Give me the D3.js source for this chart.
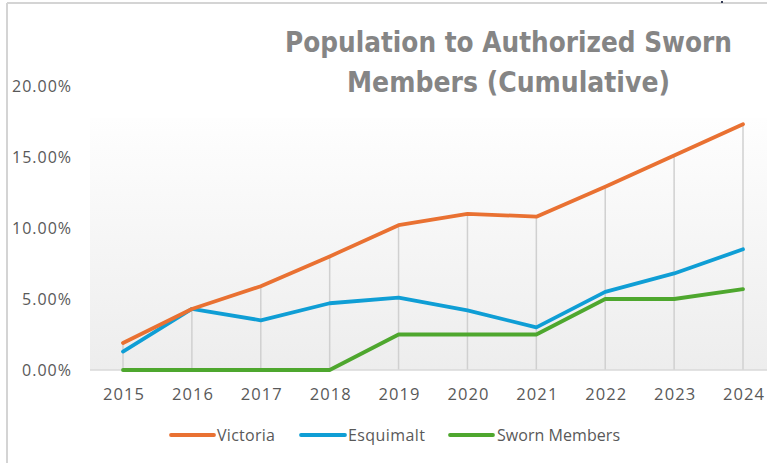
<!DOCTYPE html>
<html>
<head>
<meta charset="utf-8">
<script src="https://cdn.jsdelivr.net/npm/d3@7"></script>
<style>
html,body{margin:0;padding:0;background:#fff;}
svg{display:block;}
</style>
</head>
<body>
<svg id="chart" width="767" height="463"></svg>
<script>
const years = ["2015","2016","2017","2018","2019","2020","2021","2022","2023","2024"];
const victoria = [1.9, 4.3, 5.9, 8.0, 10.2, 11.0, 10.8, 12.9, 15.1, 17.3];
const esquimalt = [1.3, 4.3, 3.5, 4.7, 5.1, 4.2, 3.0, 5.5, 6.8, 8.5];
const sworn = [0, 0, 0, 0, 2.5, 2.5, 2.5, 5.0, 5.0, 5.7];
const yTicks = [0, 5, 10, 15, 20];
const seriesNames = ["Victoria", "Esquimalt", "Sworn Members"];
const titleLines = ["Population to Authorized Sworn", "Members (Cumulative)"];

const colors = ["#E97132", "#0F9ED5", "#4EA72E"];
const seriesData = [victoria, esquimalt, sworn];

const svg = d3.select("#chart");
const W = 767, H = 463;

// outer border
svg.append("line").attr("x1",7).attr("x2",7).attr("y1",3).attr("y2",H).attr("stroke","#d4d4d4").attr("stroke-width",2);
svg.append("line").attr("x1",7).attr("x2",W).attr("y1",3).attr("y2",3).attr("stroke","#d4d4d4").attr("stroke-width",2);
svg.append("rect").attr("x",721).attr("y",1).attr("width",2).attr("height",2).attr("fill","#333a55");

const x = d3.scalePoint().domain(years).range([123, 743]);
const y = d3.scaleLinear().domain([0, 20]).range([370, 86]);

// plot area gradient
const defs = svg.append("defs");
const grad = defs.append("linearGradient").attr("id","bg").attr("x1",0).attr("x2",0).attr("y1",0).attr("y2",1);
grad.append("stop").attr("offset","0%").attr("stop-color","#fefefe");
grad.append("stop").attr("offset","100%").attr("stop-color","#ededed");
svg.append("rect").attr("x",90).attr("y",118).attr("width",W-90).attr("height",370-118).attr("fill","url(#bg)");

// drop lines
const maxVals = years.map((yr,i)=>d3.max(seriesData, s=>s[i]));
svg.append("g").selectAll("line").data(years).join("line")
  .attr("x1", d=>x(d)).attr("x2", d=>x(d))
  .attr("y1", y(0)).attr("y2", (d,i)=>y(maxVals[i]))
  .attr("stroke","#d0d0d0").attr("stroke-width",1.5);

// x axis
const xAxis = svg.append("g").attr("transform",`translate(0,${y(0)})`)
  .call(d3.axisBottom(x).tickSize(0).tickPadding(25));
xAxis.select(".domain").remove();
svg.append("line").attr("x1",90).attr("x2",W).attr("y1",y(0)).attr("y2",y(0)).attr("stroke","#d9d9d9").attr("stroke-width",1.5);
xAxis.selectAll("text").attr("font-family","'Open Sans', sans-serif").attr("font-size",16.5)
  .attr("fill","#595959").attr("dy","0.3em").attr("textLength",41).attr("lengthAdjust","spacing");

// y axis labels
const yAxis = svg.append("g").attr("transform","translate(71,0)")
  .call(d3.axisLeft(y).tickValues(yTicks).tickSize(0).tickPadding(0).tickFormat(d=>d3.format(".2f")(d)+"%"));
yAxis.select(".domain").remove();
yAxis.selectAll("text").attr("font-family","'Open Sans', sans-serif").attr("font-size",16)
  .attr("fill","#595959").attr("textLength",function(d){return d>=10?59:49;}).attr("lengthAdjust","spacing");

// lines
const line = d3.line().x((d,i)=>x(years[i])).y(d=>y(d));
[sworn, esquimalt, victoria].forEach((s)=>{
  const idx = seriesData.indexOf(s);
  svg.append("path").datum(s).attr("d", line).attr("fill","none")
    .attr("stroke", colors[idx]).attr("stroke-width",3.8).attr("stroke-linejoin","round").attr("stroke-linecap","round");
});

// title
const titleG = svg.append("g");
const tl = [{t:titleLines[0], y:52, x:285, w:447},{t:titleLines[1], y:92, x:347, w:323}];
tl.forEach(d=>{
  titleG.append("text").attr("x",d.x).attr("y",d.y).text(d.t)
    .attr("font-family","'DejaVu Sans Condensed', 'DejaVu Sans', sans-serif").attr("font-weight","bold")
    .attr("font-size",29).attr("fill","#858585")
    .attr("textLength",d.w).attr("lengthAdjust","spacingAndGlyphs");
});

// legend
const legend = [{x1:171,x2:214,tx:217,w:58},{x1:301,x2:345,tx:348,w:77},{x1:450,x2:493,tx:497,w:123}];
legend.forEach((l,i)=>{
  svg.append("line").attr("x1",l.x1).attr("x2",l.x2).attr("y1",435).attr("y2",435)
    .attr("stroke",colors[i]).attr("stroke-width",3.8).attr("stroke-linecap","round");
  svg.append("text").attr("x",l.tx).attr("y",435).attr("dy","0.35em").text(seriesNames[i])
    .attr("font-family","'Open Sans', sans-serif").attr("font-size",16).attr("fill","#595959")
    .attr("textLength",l.w).attr("lengthAdjust","spacing");
});
</script>
</body>
</html>
